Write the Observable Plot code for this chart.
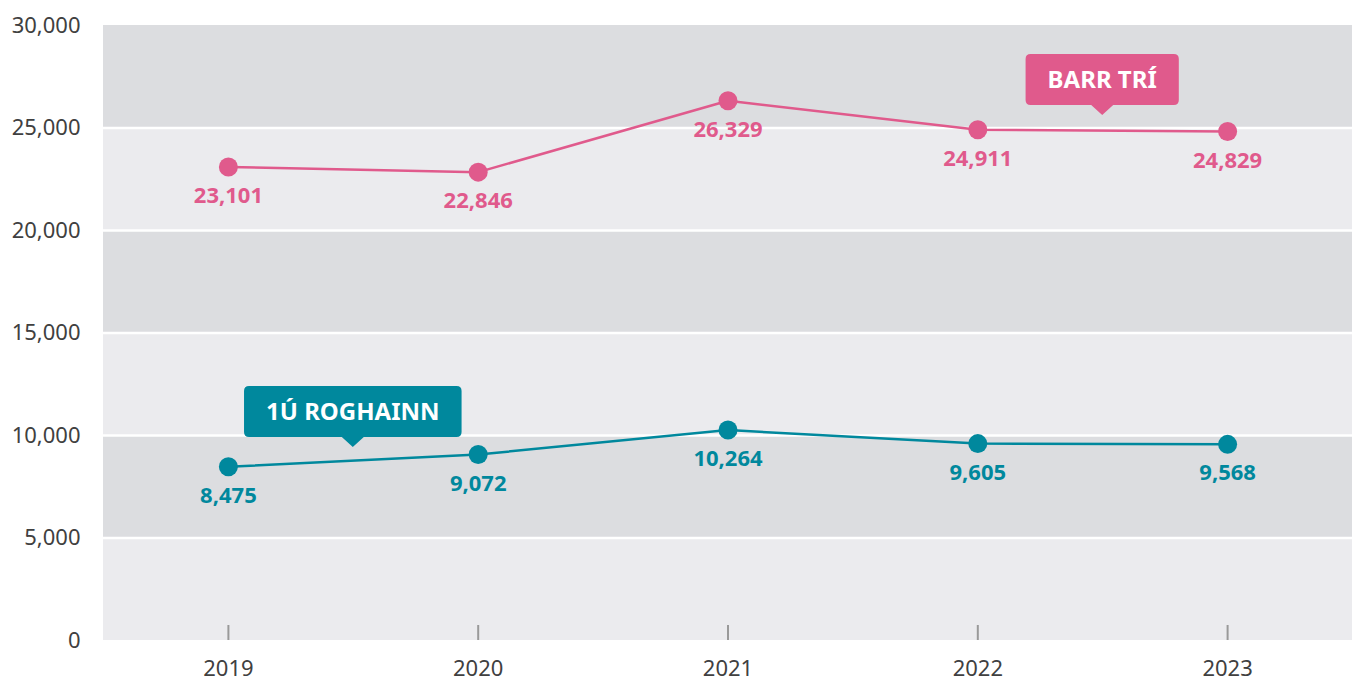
<!DOCTYPE html>
<html>
<head>
<meta charset="utf-8">
<script src="https://cdn.jsdelivr.net/npm/d3@7"></script>
<script src="https://cdn.jsdelivr.net/npm/@observablehq/plot@0.6"></script>
<style>
  html, body { margin: 0; padding: 0; background: #fff; }
  #chart { width: 1356px; height: 682px; }
</style>
</head>
<body>
<div id="chart"></div>
<script>
// ---- data ----
const years = [2019, 2020, 2021, 2022, 2023];
const barrTri = [23101, 22846, 26329, 24911, 24829];
const roghainn = [8475, 9072, 10264, 9605, 9568];
const seriesNames = ["BARR TRÍ", "1Ú ROGHAINN"];
const yTicks = [0, 5000, 10000, 15000, 20000, 25000, 30000];
// callout anchors (data coordinates of the pointer tip)
const calloutSeries = ["BARR TRÍ", "1Ú ROGHAINN"];
const calloutX = [2022.5, 2019.5];
const calloutY = [25610, 9415];

// ---- styles ----
const colors = {"BARR TRÍ": "#e05a8c", "1Ú ROGHAINN": "#00889d"};
const bandDark = "#dcdde0", bandLight = "#ebebee";
const FONT = "'Noto Sans', 'Open Sans', sans-serif";

const xDomain = [2018.5, 2023.5];

const rows = [];
seriesNames.forEach((s, si) => {
  const vals = si === 0 ? barrTri : roghainn;
  years.forEach((y, i) => rows.push({series: s, year: y, value: vals[i]}));
});

const bands = yTicks.slice(0, -1).map((v, i) => ({y1: v, y2: yTicks[i + 1], fill: i % 2 ? bandDark : bandLight}));
const callouts = calloutSeries.map((s, i) => ({series: s, x: calloutX[i], y: calloutY[i]}));

function calloutMark(data) {
  return (index, scales, values, dimensions, context) => {
    const g = d3.create("svg:g");
    const canvas = document.createElement("canvas");
    const ctx = canvas.getContext("2d");
    const fontSize = 24;
    ctx.font = `700 ${fontSize}px ${FONT}`;
    for (const d of data) {
      const tx = scales.x(d.x), ty = scales.y(d.y);
      const tw = ctx.measureText(d.series).width;
      const pad = 22, h = 51, ph = 10, pw = 11, r = 5;
      const w = tw + 2 * pad;
      const bottom = ty - ph, top = bottom - h;
      const left = tx - w / 2, right = tx + w / 2;
      const path = `M${left + r},${top} H${right - r} Q${right},${top} ${right},${top + r} V${bottom - r} Q${right},${bottom} ${right - r},${bottom} H${tx + pw} L${tx},${ty} L${tx - pw},${bottom} H${left + r} Q${left},${bottom} ${left},${bottom - r} V${top + r} Q${left},${top} ${left + r},${top} Z`;
      g.append("path").attr("d", path).attr("fill", colors[d.series]);
      g.append("text")
        .attr("x", tx).attr("y", top + h / 2)
        .attr("text-anchor", "middle").attr("dy", "0.36em")
        .attr("fill", "#fff").attr("font-size", fontSize).attr("font-weight", 700)
        .attr("font-family", FONT)
        .text(d.series);
    }
    return g.node();
  };
}

const chart = Plot.plot({
  width: 1356,
  height: 682,
  marginTop: 25,
  marginBottom: 42,
  marginLeft: 103,
  marginRight: 4,
  style: {fontFamily: FONT, fontSize: "22px", color: "#404040", background: "#fff"},
  x: {type: "linear", domain: xDomain, ticks: years, tickFormat: d => String(d), tickSize: 0, tickPadding: 20, label: null},
  y: {domain: [0, 30000], ticks: yTicks, tickFormat: d3.format(","), tickSize: 0, tickPadding: 23, label: null},
  marks: [
    Plot.rect(bands, {x1: xDomain[0], x2: xDomain[1], y1: "y1", y2: "y2", fill: "fill"}),
    Plot.ruleY(yTicks.slice(1, -1), {stroke: "#fff", strokeWidth: 2.5}),
    Plot.ruleX(years, {x: d => d, stroke: "#999", strokeWidth: 2, insetTop: 600}),
    Plot.line(rows, {x: "year", y: "value", z: "series", stroke: d => colors[d.series], strokeWidth: 2.5}),
    Plot.dot(rows, {x: "year", y: "value", r: 9.5, fill: d => colors[d.series]}),
    Plot.text(rows, {x: "year", y: "value", text: d => d3.format(",")(d.value), dy: 29, fill: d => colors[d.series], fontSize: 22, fontWeight: 700}),
    calloutMark(callouts)
  ]
});
document.getElementById("chart").appendChild(chart);
</script>
</body>
</html>
